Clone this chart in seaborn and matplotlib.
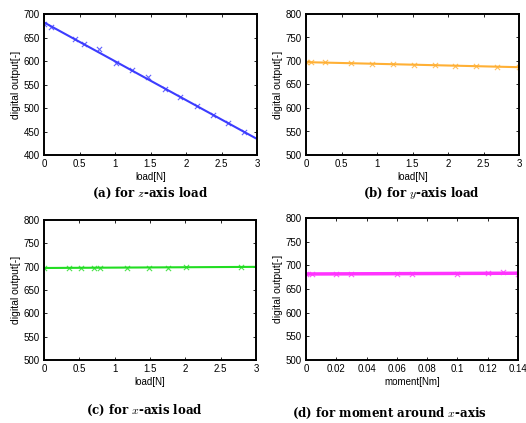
import matplotlib
matplotlib.use('Agg')
import matplotlib.pyplot as plt
import seaborn as sns
import pandas as pd

# (a) z-axis load
z_load = [0, 0.1, 0.43, 0.57, 0.77, 1.02, 1.24, 1.47, 1.7, 1.91, 2.16, 2.38, 2.59, 2.81]
z_out = [678, 672, 646, 637, 625, 596, 580, 565, 540, 523, 504, 485, 468, 448]

# (b) y-axis load
y_load = [0, 0.07, 0.27, 0.63, 0.93, 1.22, 1.52, 1.81, 2.1, 2.4, 2.69, 3.0]
y_out = [698, 697, 697, 695, 694, 693, 692, 691, 690, 689, 688, 687]

# (c) x-axis load
x_load = [0, 0.36, 0.52, 0.71, 0.79, 1.18, 1.48, 1.76, 2.01, 2.79]
x_out = [697, 697, 698, 698, 698, 698, 698, 698, 700, 699]

# (d) moment around x-axis
m_moment = [0, 0.004, 0.02, 0.03, 0.06, 0.07, 0.1, 0.12, 0.13, 0.14]
m_out = [682, 682, 682, 682, 682, 682, 682, 684, 685, 682]

sns.set_style('ticks')
plt.rcParams['font.family'] = ['Liberation Sans', 'DejaVu Sans']
plt.rcParams['mathtext.fontset'] = 'cm'
plt.rcParams['text.color'] = 'black'
plt.rcParams['axes.labelcolor'] = 'black'
plt.rcParams['xtick.color'] = 'black'
plt.rcParams['ytick.color'] = 'black'

W, H = 526, 423
fig = plt.figure(figsize=(W / 100, H / 100), dpi=100)


def px_axes(left, top, right, bottom):
    return fig.add_axes([left / W, 1 - bottom / H, (right - left) / W, (bottom - top) / H])


panels = [
    (z_load, z_out, '#3c3cff', 1.5, (44, 14, 257, 155), (0, 3), (400, 700),
     [0, 0.5, 1, 1.5, 2, 2.5, 3], 'load[N]', (150, 193), '(a) for $z$-axis load'),
    (y_load, y_out, '#ffb035', 1.5, (306, 14, 519, 155), (0, 3), (500, 800),
     [0, 0.5, 1, 1.5, 2, 2.5, 3], 'load[N]', (421, 193), '(b) for $y$-axis load'),
    (x_load, x_out, '#22dd22', 1.5, (44, 220, 256, 360), (0, 3), (500, 800),
     [0, 0.5, 1, 1.5, 2, 2.5, 3], 'load[N]', (144, 410), '(c) for $x$-axis load'),
    (m_moment, m_out, '#ff33ff', 2.5, (306, 218, 518, 360), (0, 0.14), (500, 800),
     [0, 0.02, 0.04, 0.06, 0.08, 0.1, 0.12, 0.14], 'moment[Nm]', (389, 413),
     '(d) for moment around $x$-axis'),
]

for xs, ys, color, lw, box, xlim, ylim, xticks, xlabel, cap_pos, caption in panels:
    ax = px_axes(*box)
    df = pd.DataFrame({'x': xs, 'y': ys})
    ax.set_xlim(*xlim)
    ax.set_ylim(*ylim)
    sns.regplot(data=df, x='x', y='y', ax=ax, ci=None, truncate=False, color=color,
                marker='x', scatter_kws={'s': 14, 'linewidths': 0.8},
                line_kws={'linewidth': lw})
    ax.set_xlim(*xlim)
    ax.set_ylim(*ylim)
    ax.set_xticks(xticks)
    ax.set_xticklabels([('%g' % t) for t in xticks])
    ax.set_yticks(range(ylim[0], ylim[1] + 1, 50))
    ax.tick_params(direction='in', top=True, right=True, length=2.5, width=0.6,
                   labelsize=7, pad=3)
    for sp in ax.spines.values():
        sp.set_linewidth(1.4)
        sp.set_color('black')
    ax.set_xlabel(xlabel, fontsize=7, labelpad=2)
    ax.set_ylabel('digital output[-]', fontsize=7.5, labelpad=2)
    fig.text(cap_pos[0] / W, 1 - cap_pos[1] / H, caption, ha='center', va='center',
             fontsize=8.5, fontweight='bold', family='DejaVu Serif')

fig.savefig('out.png', dpi=100)
